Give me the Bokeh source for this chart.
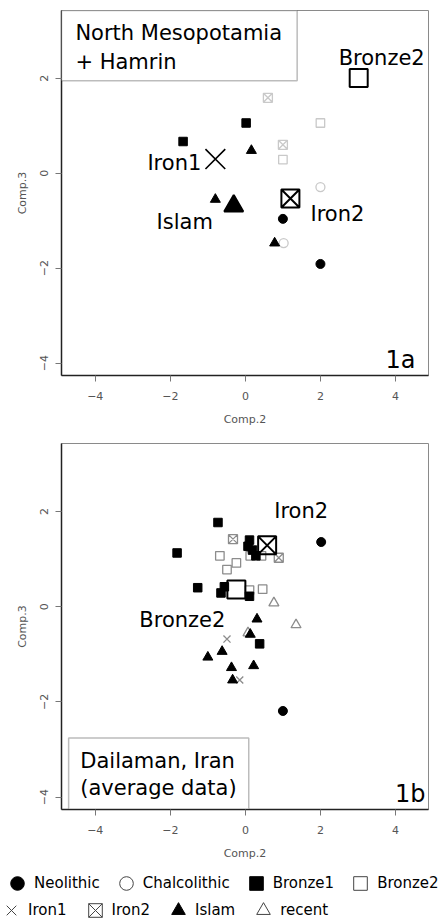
from bokeh.plotting import figure
from bokeh.layouts import column
from bokeh.models import (ColumnDataSource, FixedTicker, Label, BoxAnnotation,
                          Legend, LegendItem, Range1d)
from bokeh.core.properties import value
from bokeh.embed import file_html
from bokeh.resources import INLINE

FONT = "DejaVu Sans"

groups = ["Neolithic", "Chalcolithic", "Bronze1", "Bronze2",
          "Iron1", "Iron2", "Islam", "recent"]
tick_values = [-4, -2, 0, 2, 4]

# ---- Panel 1a: North Mesopotamia + Hamrin (samples)
a_group = ["Iron2", "Bronze1", "Bronze2", "Bronze1", "Iron2", "Islam", "Bronze2",
           "Chalcolithic", "Islam", "Neolithic", "Islam", "Chalcolithic", "Neolithic"]
a_x = [0.60, 0.02, 2.00, -1.66, 1.00, 0.16, 1.00, 2.00, -0.80, 1.00, 0.78, 1.02, 2.00]
a_y = [1.59, 1.06, 1.06, 0.67, 0.60, 0.48, 0.29, -0.29, -0.55, -0.96, -1.47, -1.47, -1.91]
# Panel 1a group averages (labelled)
a_avg_group = ["Bronze2", "Iron1", "Islam", "Iron2"]
a_avg_x = [3.02, -0.80, -0.31, 1.20]
a_avg_y = [2.01, 0.30, -0.69, -0.53]

# ---- Panel 1b: Dailaman, Iran (average data)
b_group = ["Bronze1", "Bronze1", "Bronze1", "Bronze1", "Bronze1", "Bronze1",
           "Bronze1", "Bronze1", "Bronze1", "Bronze1", "Bronze1",
           "Iron2", "Iron2",
           "Neolithic", "Neolithic",
           "Bronze2", "Bronze2", "Bronze2", "Bronze2", "Bronze2", "Bronze2", "Bronze2",
           "recent", "recent", "recent",
           "Islam", "Islam", "Islam", "Islam", "Islam", "Islam", "Islam",
           "Iron1", "Iron1"]
b_x = [-0.73, 0.11, 0.07, 0.19, 0.28, -1.82, -1.27, -0.56, -0.65, 0.11, 0.38,
       -0.33, 0.89,
       2.02, 1.00,
       -0.68, 0.13, 0.43, -0.24, -0.49, 0.11, 0.46,
       0.76, 1.35, 0.07,
       0.31, 0.13, -1.00, -0.62, -0.37, 0.22, -0.34,
       -0.49, -0.15]
b_y = [1.77, 1.40, 1.27, 1.19, 1.07, 1.13, 0.40, 0.42, 0.29, 0.22, -0.78,
       1.42, 1.03,
       1.36, -2.19,
       1.07, 1.07, 1.07, 0.92, 0.78, 0.35, 0.37,
       0.08, -0.38, -0.55,
       -0.26, -0.58, -1.06, -0.94, -1.28, -1.24, -1.54,
       -0.68, -1.54]
b_avg_group = ["Iron2", "Bronze2"]
b_avg_x = [0.58, -0.24]
b_avg_y = [1.29, 0.36]

# ---- styles
MARKER = {"Neolithic": "circle", "Chalcolithic": "circle", "Bronze1": "square",
          "Bronze2": "square", "Iron1": "x", "Iron2": "square_x",
          "Islam": "triangle", "recent": "triangle"}
FILLED = {"Neolithic", "Bronze1", "Islam"}
SIZE = {"circle": 9, "square": 8.5, "x": 10, "square_x": 9, "triangle": 10}
AVG_SIZE = {"square": 18, "square_x": 18, "x": 28, "triangle": 19, "circle": 18}
X_RANGE = (-4.9, 4.88)
Y_RANGE = (-4.26, 3.43)
W = 443
BL, BR = 61, 15


def base_fig(height, top_border, bottom_border):
    p = figure(width=W, height=height,
               x_range=Range1d(*X_RANGE), y_range=Range1d(*Y_RANGE),
               output_backend="svg", toolbar_location=None,
               min_border_left=BL, min_border_right=BR,
               min_border_top=top_border, min_border_bottom=bottom_border,
               x_axis_label="Comp.2", y_axis_label="Comp.3")
    p.grid.visible = False
    p.background_fill_color = "white"
    p.border_fill_color = "white"
    p.outline_line_color = "#8a8a8a"
    p.outline_line_width = 1
    for ax in (p.xaxis[0], p.yaxis[0]):
        ax.ticker = FixedTicker(ticks=tick_values)
        ax.axis_line_color = "#222222"
        ax.axis_line_width = 1.5
        ax.major_tick_line_color = "#777777"
        ax.major_tick_in = 0
        ax.major_tick_out = 6
        ax.minor_tick_line_color = None
        ax.major_label_text_font = FONT
        ax.major_label_text_font_size = "11px"
        ax.major_label_text_color = "#555555"
        ax.axis_label_text_font = FONT
        ax.axis_label_text_font_size = "11px"
        ax.axis_label_text_font_style = "normal"
        ax.axis_label_text_color = "#555555"
    p.xaxis.major_label_standoff = 10
    p.xaxis.axis_label_standoff = 10
    p.yaxis.major_label_orientation = "vertical"
    p.yaxis.major_label_standoff = 7
    p.yaxis.axis_label_standoff = 9
    return p


def draw_samples(p, g, x, y, grey):
    order = [gr for gr in groups if gr not in FILLED] + [gr for gr in groups if gr in FILLED]
    for gr in order:
        idx = [i for i, v in enumerate(g) if v == gr]
        if not idx:
            continue
        src = ColumnDataSource(dict(x=[x[i] for i in idx], y=[y[i] for i in idx]))
        m = MARKER[gr]
        if gr in FILLED:
            p.scatter("x", "y", source=src, marker=m, size=SIZE[m],
                      fill_color="black", line_color="black")
        else:
            p.scatter("x", "y", source=src, marker=m, size=SIZE[m],
                      fill_color=None, line_color=grey, line_width=1.3)


def draw_avgs(p, g, x, y, dx, dy):
    for gi, xi, yi in zip(g, x, y):
        m = MARKER[gi]
        filled = gi in FILLED
        p.scatter([xi], [yi], marker=m, size=AVG_SIZE[m],
                  fill_color="black" if filled else None, line_color="black",
                  line_width=1.6 if m == "x" else 2)
    src = ColumnDataSource(dict(x=x, y=y, t=g, dx=dx, dy=dy))
    p.text("x", "y", text="t", x_offset="dx", y_offset="dy", source=src,
           text_font=value(FONT), text_font_size="21px", text_align="center",
           text_baseline="middle", text_color="black")


def title_box(p, left, right, top, bottom, tx, lines, ys):
    p.add_layout(BoxAnnotation(left=left, right=right, top=top, bottom=bottom,
                               fill_color="white", fill_alpha=1.0,
                               line_color="#222222", line_width=1.5, level="overlay"))
    for t, yy in zip(lines, ys):
        p.add_layout(Label(x=tx, y=yy, text=t, text_font=FONT, text_font_size="21px",
                           text_baseline="middle", text_color="black", level="overlay"))


# ---------------- panel 1a
pa = base_fig(438, 10, 63)
draw_samples(pa, a_group, a_x, a_y, "#c9c9c9")
draw_avgs(pa, a_avg_group, a_avg_x, a_avg_y, [23, -41, -49, 47], [-20, 4, 16, 16])
title_box(pa, -4.9, 1.38, 3.43, 1.95, -4.53,
          ["North Mesopotamia", "+ Hamrin"], [2.96, 2.35])
pa.add_layout(Label(x=4.53, y=-3.94, text="1a", text_font=FONT, text_font_size="24px",
                    text_align="right", text_baseline="middle", text_color="black"))

# ---------------- panel 1b
pb = base_fig(424, 5, 53)
draw_samples(pb, b_group, b_x, b_y, "#8c8c8c")
draw_avgs(pb, b_avg_group, b_avg_x, b_avg_y, [34, -54], [-34, 30])
title_box(pb, -4.71, 0.09, -2.76, -4.25, -4.4,
          ["Dailaman, Iran", "(average data)"], [-3.25, -3.81])
pb.add_layout(Label(x=4.8, y=-3.94, text="1b", text_font=FONT, text_font_size="24px",
                    text_align="right", text_baseline="middle", text_color="black"))

# ---------------- legend strip (full-width frame, not aligned to the panels)
LH = 56
lf = figure(width=W, height=LH, x_range=Range1d(0, 1), y_range=Range1d(0, 1),
            output_backend="svg", toolbar_location=None, frame_align=False,
            min_border_left=0, min_border_right=0, min_border_top=0, min_border_bottom=0,
            x_axis_location=None, y_axis_location=None)
lf.grid.visible = False
lf.outline_line_color = None
lf.border_fill_color = "white"
nan = float("nan")
items = {}
for gr in groups:
    m = MARKER[gr]
    if gr in FILLED:
        r = lf.scatter(x=[nan], y=[nan], marker=m, size=10,
                       fill_color="black", line_color="black")
    else:
        r = lf.scatter(x=[nan], y=[nan], marker=m, size=10, fill_color=None,
                       line_color="#444444", line_width=1)
    items[gr] = LegendItem(label=gr, renderers=[r])


def make_legend(names, loc, spacing):
    return Legend(items=[items[n] for n in names], location=loc, orientation="horizontal",
                  glyph_width=34, glyph_height=34, label_standoff=0, spacing=spacing,
                  padding=0, margin=0, border_line_color=None, background_fill_alpha=0,
                  label_text_font=FONT, label_text_font_size="15px",
                  label_text_color="black")


lf.add_layout(make_legend(groups[:4], (0, 18), 9))
lf.add_layout(make_legend(groups[4:], (-6, -9), 11))

layout = column(pa, pb, lf)
open("out.html", "w").write(file_html(layout, INLINE))
